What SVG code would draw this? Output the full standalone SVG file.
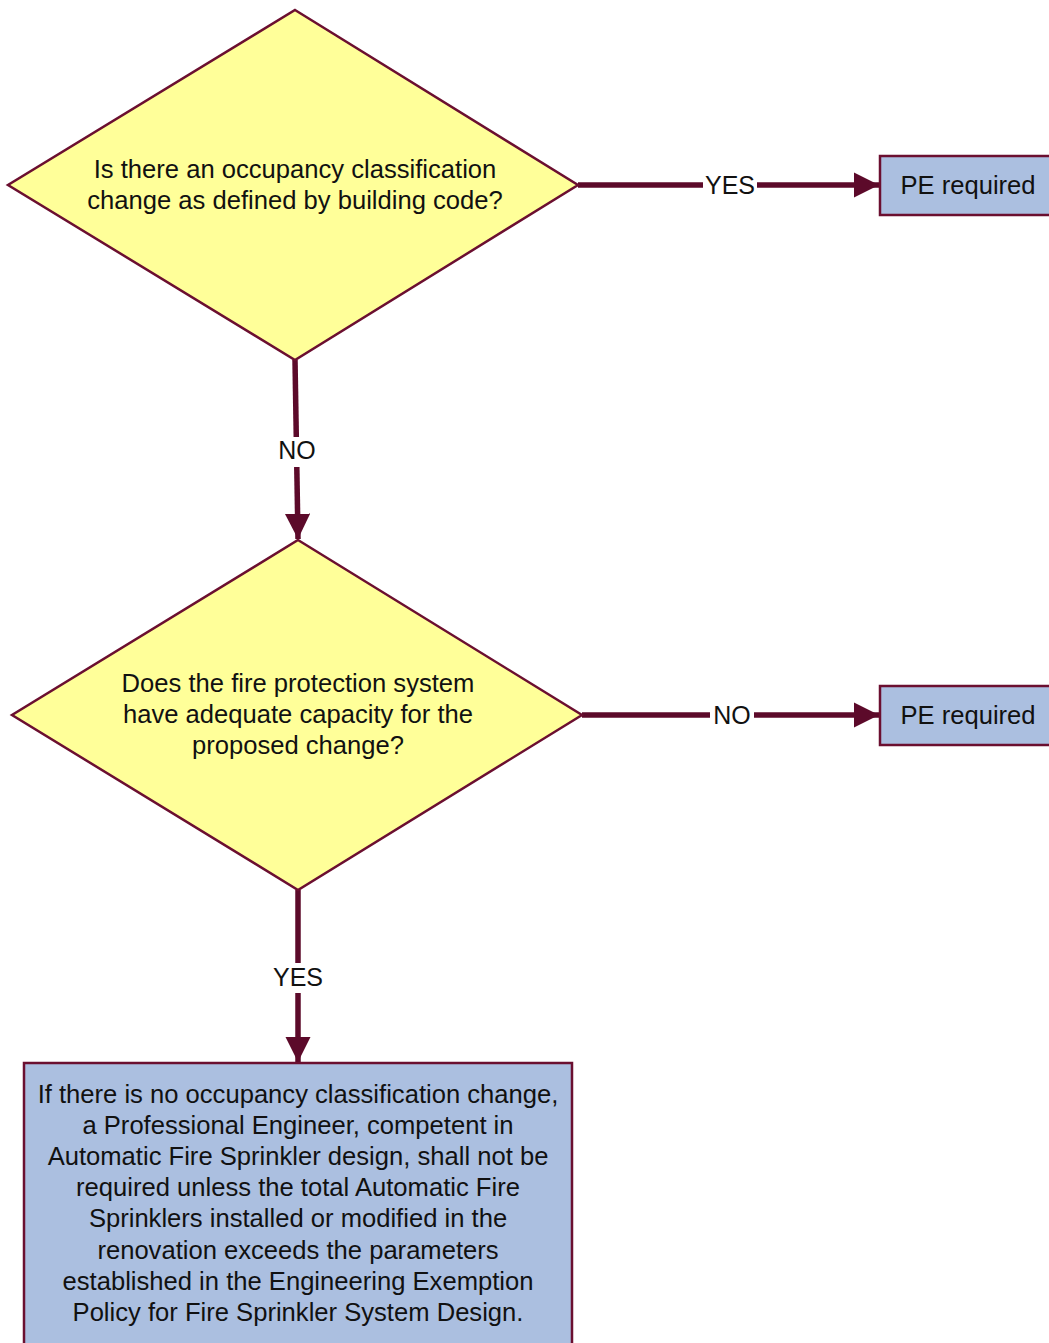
<svg xmlns="http://www.w3.org/2000/svg" width="1049" height="1343" viewBox="0 0 1049 1343">
<style>
.dec{fill:#ffff99;stroke:#6b0f30;stroke-width:2.5}
.box{fill:#abbfe0;stroke:#6b0f30;stroke-width:2.5}
.t{font-family:"Liberation Sans",Arial,sans-serif;font-size:25.6px;fill:#111;text-anchor:middle}
.lbl{font-family:"Liberation Sans",Arial,sans-serif;font-size:25px;fill:#111;text-anchor:middle}
.c{stroke:#5c0a2a;stroke-width:5.5;fill:none}
.lb{fill:#fff}
</style>
<defs>
<marker id="ah" viewBox="0 0 10 10" refX="10" refY="5" markerWidth="4.6" markerHeight="4.6" orient="auto" markerUnits="strokeWidth">
<path d="M0,0 L10,5 L0,10 z" fill="#5c0a2a"/>
</marker>
</defs>
<rect width="1049" height="1343" fill="#fff"/>
<g id="connectors">
<path class="c" d="M578,185 L879,185" marker-end="url(#ah)"/>
<rect class="lb" x="703" y="172" width="54" height="26"/>
<text class="lbl" x="730" y="194">YES</text>
<path class="c" d="M295,360 L298,539" marker-end="url(#ah)"/>
<rect class="lb" x="274" y="437" width="46" height="30"/>
<text class="lbl" x="297" y="459">NO</text>
<path class="c" d="M582,715 L879,715" marker-end="url(#ah)"/>
<rect class="lb" x="710" y="702" width="44" height="26"/>
<text class="lbl" x="732" y="724">NO</text>
<path class="c" d="M298,890 L298,1062" marker-end="url(#ah)"/>
<rect class="lb" x="268" y="963" width="60" height="30"/>
<text class="lbl" x="298" y="986">YES</text>
</g>
<g id="d1">
<polygon class="dec" points="295,10 578,185 295,360 8,185"/>
<text class="t" x="295" y="178">Is there an occupancy classification</text>
<text class="t" x="295" y="209">change as defined by building code?</text>
</g>
<g id="pe1">
<rect class="box" x="880" y="156" width="180" height="59"/>
<text class="t" x="968" y="194">PE required</text>
</g>
<g id="d2">
<polygon class="dec" points="298,540 582,715 298,890 12,715"/>
<text class="t" x="298" y="692">Does the fire protection system</text>
<text class="t" x="298" y="723">have adequate capacity for the</text>
<text class="t" x="298" y="754">proposed change?</text>
</g>
<g id="pe2">
<rect class="box" x="880" y="686" width="180" height="59"/>
<text class="t" x="968" y="724">PE required</text>
</g>
<g id="result">
<rect class="box" x="24" y="1063" width="548" height="300"/>
<text class="t" x="298" y="1103">If there is no occupancy classification change,</text>
<text class="t" x="298" y="1134">a Professional Engineer, competent in</text>
<text class="t" x="298" y="1165">Automatic Fire Sprinkler design, shall not be</text>
<text class="t" x="298" y="1196">required unless the total Automatic Fire</text>
<text class="t" x="298" y="1227">Sprinklers installed or modified in the</text>
<text class="t" x="298" y="1259">renovation exceeds the parameters</text>
<text class="t" x="298" y="1290">established in the Engineering Exemption</text>
<text class="t" x="298" y="1321">Policy for Fire Sprinkler System Design.</text>
</g>
</svg>
